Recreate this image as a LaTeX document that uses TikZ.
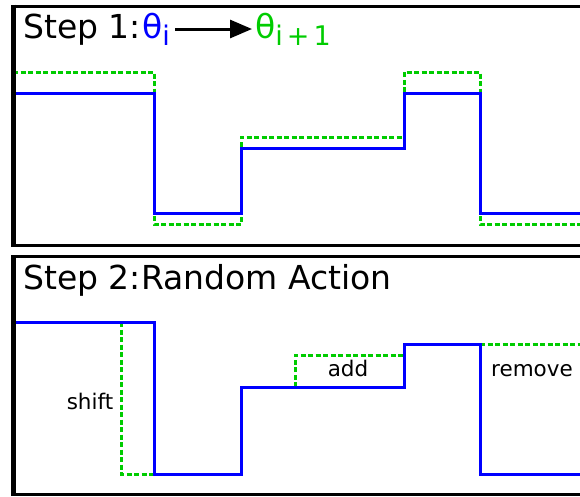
\documentclass[tikz,border=0pt]{standalone}
\usepackage{fontspec}
\setmainfont{DejaVu Sans}
\usetikzlibrary{arrows.meta}
\definecolor{stepblue}{RGB}{0,0,255}
\definecolor{stepgreen}{RGB}{0,204,0}

\begin{document}
\begin{tikzpicture}[x=1pt,y=-1pt,
  frame/.style={line width=3pt, black},
  leftedge/.style={line width=4.5pt, black},
  oldpath/.style={stepblue, line width=3pt},
  newpath/.style={stepgreen, line width=3pt, dash pattern=on 5pt off 2.5pt},
  title/.style={font=\fontsize{33}{33}\selectfont, inner sep=0pt, anchor=base west},
  theta/.style={title, text height=18pt, text depth=0pt},
  actionlabel/.style={font=\fontsize{21.5}{21.5}\selectfont, inner sep=0pt, anchor=base},
  flow/.style={line width=3pt, black, -{Triangle[length=22pt,width=18pt]}},
]
\useasboundingbox (0,0) rectangle (580,496);
\clip (0,0) rectangle (580,496);

% ---- Step 1: current and proposed step functions ----
\draw[newpath] (13,72) -- (154,72) -- (154,224) -- (241,224) -- (241,137)
  -- (404,137) -- (404,72) -- (480,72) -- (480,224) -- (600,224);
\draw[oldpath] (13,93) -- (154,93) -- (154,213) -- (241,213) -- (241,148)
  -- (404,148) -- (404,93) -- (480,93) -- (480,213) -- (600,213);

\node[title] (s1) at (23,38) {Step 1:};
\node[theta, stepblue] (ti) at (142,38)
  {θ\raisebox{-7pt}{\fontsize{27}{27}\selectfont i}};
\node[theta, stepgreen] (tn) at (255,38)
  {θ\raisebox{-7pt}{\fontsize{27}{27}\selectfont i\hspace{4pt}+\hspace{4pt}1}};
\draw[flow, shorten <=5pt, shorten >=3pt] (ti.east) -- (tn.west);

% ---- Step 2: random actions on the step function ----
\draw[newpath] (121,322) -- (121,474) -- (154,474);
\draw[newpath] (295,387) -- (295,355) -- (404,355);
\draw[newpath] (480,344) -- (600,344);
\draw[oldpath] (13,322) -- (154,322) -- (154,474) -- (241,474) -- (241,387)
  -- (404,387) -- (404,344) -- (480,344) -- (480,474) -- (600,474);

\node[title] (s2) at (23,289) {Step 2:};
\node[title] (ra) at (141,289) {Random Action};
\node[actionlabel] (lshift) at (90,409) {shift};
\node[actionlabel] (ladd) at (348,376) {add};
\node[actionlabel] (lrem) at (532,376) {remove};

% ---- panel frames (open to the right) ----
\draw[frame] (600,6) -- (13.5,6) -- (13.5,245) -- (600,245);
\draw[frame] (600,256.5) -- (13.5,256.5) -- (13.5,494.5) -- (600,494.5);
\draw[leftedge] (13.5,4.5) -- (13.5,246.5);
\draw[leftedge] (13.5,255) -- (13.5,496);
\end{tikzpicture}
\end{document}
